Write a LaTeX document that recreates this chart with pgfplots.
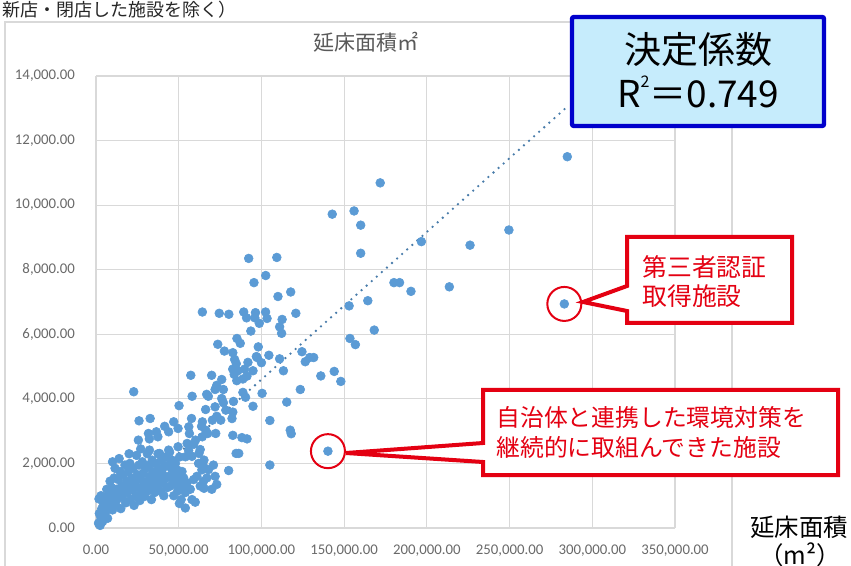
\documentclass[border=0pt]{standalone}
\usepackage{pgfplots}
\usepackage{pgfplotstable}
\pgfplotsset{compat=1.18}
\usepackage{fontspec}
\setmainfont{Carlito}
\newfontfamily\jp{Noto Sans CJK JP}
\definecolor{ptblue}{RGB}{91,155,213}
\definecolor{tickgray}{RGB}{105,105,105}
\definecolor{gridgray}{RGB}{217,217,217}
\definecolor{boxblue}{RGB}{0,0,204}
\definecolor{boxfill}{RGB}{198,236,252}
\definecolor{callred}{RGB}{228,0,18}
\definecolor{titlegray}{RGB}{89,89,89}

\pgfplotstableread{
x y
64300 6690
74500 6650
80300 6620
89300 6690
91000 6510
96400 6670
96000 6510
102500 6690
103400 6490
98700 6340
112500 6460
111000 6230
112200 6030
93600 6100
120800 6650
92300 8350
109300 8380
102600 7820
95500 7600
117700 7310
110000 7170
171800 10690
142800 9720
156000 9820
160000 9380
160000 8510
196700 8870
226100 8760
249600 9230
284900 11500
180100 7600
183500 7600
190400 7330
213600 7470
283100 6940
164300 7040
153000 6880
168200 6130
153500 5870
156800 5680
144000 4850
148000 4540
135900 4710
73600 5690
77600 5480
85200 5870
87200 5720
82700 5430
98100 5610
104500 5350
97400 5280
111000 5240
83800 5220
84800 5090
100000 5120
124500 5460
129200 5280
126500 5150
131600 5280
113300 4870
82650 4920
85710 4870
89800 4920
94900 4870
91840 5130
96940 5310
88780 4615
85100 4564
83540 4757
91270 4705
123500 4290
100400 4170
88800 4200
90400 4050
94900 3770
83100 3920
82700 3590
115300 3900
105100 3330
117400 3030
118000 2920
82200 3390
82700 2870
88200 2800
84700 2310
86300 2310
140200 2380
105100 1950
80200 1780
69900 4730
76000 4600
57300 4730
73000 4420
72000 4290
66900 4140
67900 4080
77000 4290
58100 4080
22800 4220
76000 4010
77000 3880
50200 3790
26020 3320
32730 3392
46960 3289
31710 2928
25620 2722
37410 2825
43910 2980
49600 3083
56110 3134
57740 3392
66280 3670
71970 3753
78470 3650
32320 2413
38420 2309
43910 2413
49600 2516
55090 2619
60180 2722
64240 2825
66280 3031
72380 2928
62210 2309
54080 2206
65260 2103
75420 3340
70340 3340
36490 2980
32260 2760
56450 2926
64310 3288
67540 2926
91300 2760
41500 3150
63800 3150
73000 3460
1500 150
2500 80
3000 320
4000 200
2000 450
3500 600
5000 380
4500 750
6000 520
1800 900
3000 1000
5500 950
7000 300
7500 680
8000 1050
6500 1200
9000 820
10000 560
9500 1250
8500 1450
10500 1000
11000 1550
12000 720
12500 1200
11500 1850
13000 900
13500 1500
14000 1100
10000 2050
14500 1750
15000 600
15500 1300
16000 950
16500 1650
17000 1200
17500 1950
18000 780
18500 1450
19000 1100
19500 1750
20000 1300
20500 2000
21000 880
21500 1550
22000 1200
22500 1850
23000 700
23500 1400
24000 1000
24500 2250
25000 1650
25500 1250
26000 1950
26500 850
27000 1500
27500 1100
28000 2050
28500 1700
29000 1300
29500 980
30000 1850
30500 1450
31000 2300
31500 1150
32000 1950
32500 1600
33000 1300
33500 880
34000 2100
34500 1750
35000 1450
35500 1100
36000 2000
36500 1650
37000 1300
37500 2300
38000 1850
38500 1500
39000 1150
39500 2100
40000 1700
40500 1400
41000 1000
41500 1900
42000 2200
42500 1550
43000 1250
43500 1950
44000 1600
44500 2350
45000 1300
45500 1850
46000 2100
46500 1500
47000 1000
47500 1700
48000 2000
48500 1350
49000 1800
49500 1150
50000 1600
50500 2200
51000 1450
51500 880
52000 1750
52500 1250
53000 1550
54000 1100
54000 620
55000 1400
57000 1200
58000 880
58000 2220
59000 1500
59000 2590
60000 800
61000 1600
62000 2000
63000 1300
63000 2430
64000 1800
65000 1450
65000 1910
67000 1550
68000 1810
70000 1200
71000 1950
72000 1600
73000 1350
56000 2400
20000 2300
27000 2450
14000 2150
65300 1230
50400 760
}\scatterdata

\begin{document}
\begin{tikzpicture}
\useasboundingbox (0,0) rectangle (425.5pt,-283pt);
\clip (0,0) rectangle (425.5pt,-283pt);
\begin{scope}[x=0.5pt,y=-0.5pt]
  % line of text above the chart
  \node[anchor=west, inner sep=0pt, font=\jp\fontsize{9}{9}\selectfont, text=black!85] at (2,10) {新店・閉店した施設を除く）};
  % chart area border
  \draw[gridgray, line width=0.6pt] (5,22) rectangle (732,600);
  % title
  \node[font=\jp\fontsize{10.5}{11}\selectfont, text=titlegray] at (366,42) {延床面積㎡};
\end{scope}

\begin{axis}[
  at={(48pt,-264pt)}, anchor=south west,
  scale only axis, width=289.5pt, height=226pt,
  xmin=0, xmax=350000, ymin=0, ymax=14000,
  xtick={0,50000,...,350000}, ytick={0,2000,...,14000},
  scaled ticks=false,
  grid=major, major grid style={draw=gridgray, line width=0.6pt},
  axis line style={draw=none},
  major tick length=0pt,
  /pgf/number format/fixed,
  /pgf/number format/fixed zerofill,
  /pgf/number format/precision=2,
  /pgf/number format/1000 sep={,},
  /pgf/number format/assume math mode=true,
  tick label style={font=\fontsize{7.4}{8}\selectfont, text=tickgray},
  xticklabel style={yshift=-5pt},
  yticklabel style={xshift=-7pt},
  clip=false,
]
\addplot[only marks, color=ptblue, mark=*, mark size=2.2pt, mark options={fill=ptblue, draw=ptblue, line width=0.3pt}] table {\scatterdata};
\addplot[color=ptblue!80!black, line width=1.3pt, line cap=round, dash pattern=on 0pt off 3.4pt] coordinates {(1000,76) (284900,13050)};
\draw[callred, line width=1pt] (axis cs:283100,6940) circle[radius=8.5pt];
\draw[callred, line width=1pt] (axis cs:140200,2380) circle[radius=8.5pt];
\end{axis}

\begin{scope}[x=0.5pt,y=-0.5pt]
  % R^2 box
  \draw[boxblue, line width=2.2pt, fill=boxfill, rounded corners=1pt] (572,17) rectangle (824,126);
  \node[font=\jp\fontsize{18.5}{20}\selectfont] at (698,50) {決定係数};
  \node[font=\jp\fontsize{18.5}{20}\selectfont] at (698,92) {R\raisebox{0.55em}{\fontsize{8}{8}\selectfont 2}＝0.749};
  % callout 1
  \draw[callred, line width=2pt, fill=white] (627,237) -- (792,237) -- (792,323) -- (627,323) -- (627,311) -- (583,302) -- (627,286) -- cycle;
  \node[anchor=west, inner sep=0pt, font=\jp\fontsize{12.4}{13}\selectfont, text=callred] at (642,267) {第三者認証};
  \node[anchor=west, inner sep=0pt, font=\jp\fontsize{12.4}{13}\selectfont, text=callred] at (642,296) {取得施設};
  % callout 2
  \draw[callred, line width=2pt, fill=white] (483,390) -- (838,390) -- (838,475) -- (483,475) -- (483,462) -- (346,453) -- (483,443) -- cycle;
  \node[anchor=west, inner sep=0pt, font=\jp\fontsize{11.9}{13}\selectfont, text=callred] at (496,417) {自治体と連携した環境対策を};
  \node[anchor=west, inner sep=0pt, font=\jp\fontsize{11.9}{13}\selectfont, text=callred] at (496,447) {継続的に取組んできた施設};
  % axis unit label
  \node[font=\jp\fontsize{12.2}{13}\selectfont] at (799,527) {延床面積};
  \node[font=\jp\fontsize{12.2}{13}\selectfont] at (800,555) {（m²）};
\end{scope}
\end{tikzpicture}
\end{document}
